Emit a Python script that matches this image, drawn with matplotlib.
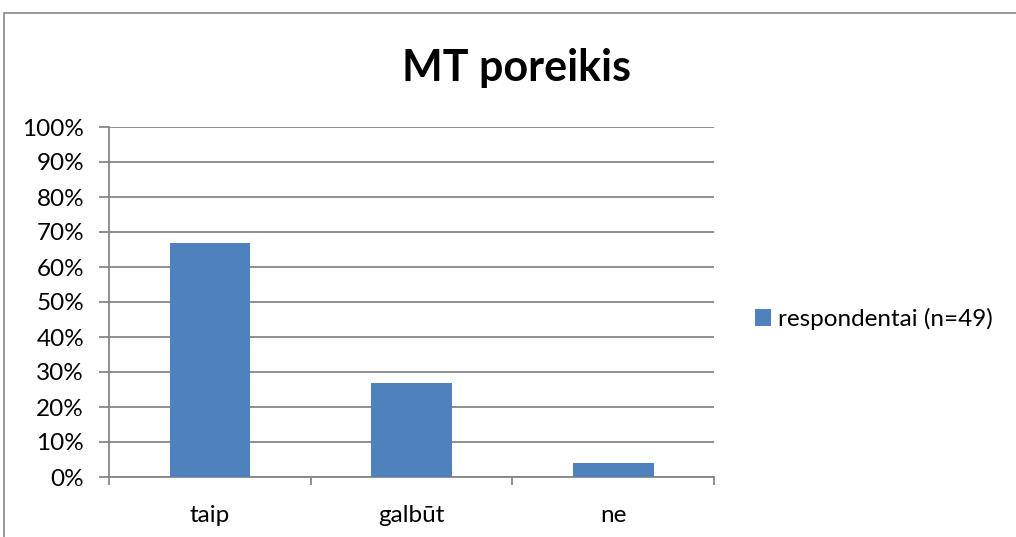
import matplotlib
matplotlib.use("Agg")
import matplotlib.pyplot as plt
from matplotlib.patches import Rectangle
from matplotlib.ticker import PercentFormatter

kategorijos = ["taip", "galbūt", "ne"]
reiksmes = [67, 27, 4]
serija = "respondentai (n=49)"
pavadinimas = "MT poreikis"

plt.rcParams["font.family"] = ["Lato", "DejaVu Sans"]

spalva = "#4F81BD"
pilka = "#868686"

fig = plt.figure(figsize=(10.16, 5.37), dpi=100)
ax = fig.add_axes([109 / 1016, 60 / 537, 605 / 1016, 350 / 537])

x = list(range(len(kategorijos)))
ax.bar(x, reiksmes, width=0.4, color=spalva, label=serija, zorder=3)

ax.set_xlim(-0.5, len(kategorijos) - 0.5)
ax.set_ylim(0, 100)
ax.set_yticks(range(0, 101, 10))
ax.yaxis.set_major_formatter(PercentFormatter(decimals=0))
ax.grid(axis="y", color=pilka, linewidth=1.3, zorder=0)

ax.set_xticks(x)
ax.set_xticklabels(kategorijos)
ax.set_xticks([i - 0.5 for i in range(len(kategorijos) + 1)], minor=True)
ax.tick_params(axis="x", which="major", length=0, pad=20, labelsize=17.5)
ax.tick_params(axis="x", which="minor", length=5.5, color=pilka, width=1.3)
ax.tick_params(axis="y", length=7, color=pilka, width=1.3, pad=11, labelsize=17.5)

for s in ["top", "right"]:
    ax.spines[s].set_visible(False)
for s in ["left", "bottom"]:
    ax.spines[s].set_color(pilka)
    ax.spines[s].set_linewidth(1.3)

fig.text(517 / 1016, 1 - 68 / 537, pavadinimas, ha="center", va="center",
         fontsize=31, fontweight="bold")

ax.legend(loc="center left", bbox_to_anchor=(755 / 1016, 1 - 319 / 537),
          bbox_transform=fig.transFigure, frameon=False, fontsize=17.5,
          handlelength=0.65, handleheight=0.65, handletextpad=0.3,
          borderpad=0, borderaxespad=0)

fig.patches.append(Rectangle((4 / 1016, -0.1), 1.2, 1 - 12.5 / 537 + 0.1,
                             transform=fig.transFigure, fill=False,
                             edgecolor=pilka, linewidth=1.2))

fig.savefig("out.png", dpi=100)
